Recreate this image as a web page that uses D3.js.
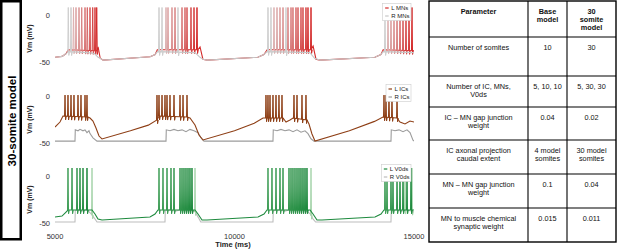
<!DOCTYPE html>
<html>
<head>
<meta charset="utf-8">
<script src="https://cdn.jsdelivr.net/npm/d3@7"></script>
<style>
  body { margin: 0; background: #fff; }
  svg { display: block; font-family: "Liberation Sans", Arial, sans-serif; }
</style>
</head>
<body>
<svg id="chart" width="617" height="250"></svg>
<script>
// ---------- data (time in ms, voltage in mV) ----------
const timeTicks = [5000, 10000, 15000];
const vmTicks = [0, -50];

// motor neurons
const mnEnvL = [[5000,-45],[5200,-44],[5310,-41],[5370,-37],[6170,-38],[6200,-34],[6260,-46],[6340,-48],[7650,-44.5],[7790,-42],[7850,-37],[8980,-37],[9040,-34],[9120,-47],[9240,-48],[10650,-45],[10820,-42],[10910,-37],[12130,-37],[12190,-33],[12270,-47],[12380,-48],[13910,-45],[14080,-42],[14140,-37],[15000,-38]];
const mnEnvR = [[5000,-45],[5200,-44],[5310,-41],[5370,-39],[5900,-40],[6100,-41],[6200,-45],[6260,-46],[6340,-48],[7650,-44.5],[7790,-42],[7850,-39],[8900,-40],[9040,-45],[9120,-47],[9240,-48],[10650,-45],[10820,-42],[10910,-39],[12100,-40],[12230,-46],[12380,-48],[13910,-45],[14080,-42],[14140,-39],[15000,-40]];
const mnSpikesL = [
  [5515,5585,5669,5744,5836,5900,5975,6050,6114,6162],
  [8092,8148,8259,8343,8538,8621,8677,8788,8872,8955],
  [11100,11184,11267,11351,11490,11574,11629,11713,11769,11852,11908,11991,12047,12131],
  [14276,14359,14443,14527,14610,14694,14777,14861,14944]
];
const mnSpikesR = [5370,5446,7897,7981,8426,10933,11016,11434,14192];
const mnPeak = 8;

// interneurons (ICs)
const icEnvL = [[5000,-33],[5139,-27.7],[5223,-21.3],[5919,-22.3],[5975,-23.4],[6058,-26.6],[6142,-34],[6226,-42.6],[6309,-45.7],[7100,-37],[7600,-31],[7841,-25.5],[7900,-21.3],[8677,-22.3],[8760,-23.4],[8900,-30.9],[9011,-41.5],[9123,-46.8],[10000,-37],[10550,-29],[10794,-23.4],[11351,-23.4],[11435,-27.7],[11546,-25.5],[11630,-23.4],[12019,-25.5],[12075,-29.8],[12158,-40.4],[12242,-47.9],[13200,-37],[13900,-27],[14136,-22.3],[14526,-23.4],[14610,-27.7],[14749,-29.8],[14889,-26.6],[15000,-27.7]];
const icEnvR = [[5000,-48],[5557,-48],[5565,-36],[5641,-37],[5696,-35.5],[5780,-37],[5836,-36],[5891,-39],[5947,-37],[5975,-40],[6058,-44.5],[6170,-48],[8092,-48],[8100,-36],[8203,-37],[8315,-35.5],[8426,-37],[8538,-36],[8649,-38],[8760,-35.5],[8872,-37],[8983,-39],[9067,-44.5],[9150,-48],[11072,-48],[11080,-36],[11184,-37],[11295,-35.5],[11406,-37],[11518,-36],[11630,-38],[11741,-36],[11852,-38.5],[11964,-37],[12047,-40],[12131,-45.5],[12214,-48],[14359,-48],[14367,-36],[14471,-37],[14582,-36],[14694,-38],[14805,-36],[14889,-39],[14972,-47],[15000,-48]];
const icSpikesL = [
  [5279,5362,5446,5529,5641,5724,5836,5891],
  [7841,7897,7981,8064,8120,8203,8315,8482,8566,8677],
  [10877,10933,10989,11072,11156,11239,11323,11657,11741,11880,11991],
  [14164,14220,14303,14387,14527]
];
const icPeak = 1;

// V0d neurons
const v0dEnvL = [[5000,-43.6],[5195,-42.6],[5279,-39.4],[5362,-36.2],[6031,-36.2],[6114,-40.4],[6198,-45.7],[6309,-46.8],[7646,-43.6],[7786,-40.4],[7869,-36.2],[8900,-36.2],[8983,-40.4],[9095,-46.8],[9234,-46.8],[10655,-43.6],[10822,-40.4],[10905,-36.2],[12103,-36.2],[12187,-40.4],[12298,-46.8],[12437,-46.8],[13914,-43.6],[14081,-40.4],[14164,-36.2],[15000,-36.2]];
const v0dEnvR = [[5000,-49],[5557,-49],[5565,-37],[5650,-36],[5750,-37.5],[5850,-36],[5919,-37],[6000,-40],[6100,-45],[6170,-49],[8064,-49],[8072,-37],[8200,-36],[8350,-37.5],[8500,-36],[8650,-37],[8800,-36.5],[8900,-38],[8990,-44],[9060,-49],[11072,-49],[11080,-37],[11250,-36],[11400,-37.5],[11550,-36],[11700,-37],[11850,-36],[12000,-37.5],[12103,-40],[12190,-46],[12260,-49],[14359,-49],[14367,-37],[14500,-36],[14650,-37.5],[14800,-36],[14972,-38],[15000,-38]];
const v0dSpikesL = [
  [5362,5474,5613,5696,5780,5891],
  [7897,8008,8120,8231,8315,8482,8538,8593,8649,8705,8760,8816],
  [10933,11044,11156,11267,11351,11518,11574,11629,11685,11741,11797,11852,11908,11964,12019],
  [14192,14248,14359,14415,14527,14610,14694,14805,14917]
];
const v0dSpikesR = [6031,8900,12131,14750,14944];
const v0dPeak = 8.5;

// table
const tableHeader = ["Parameter", "Base\nmodel", "30\nsomite\nmodel"];
const paramNames = ["Number of somites", "Number of IC, MNs,\nV0ds", "IC \u2013 MN gap junction\nweight", "IC axonal projection\ncaudal extent", "MN \u2013 MN gap junction\nweight", "MN to muscle chemical\nsynaptic weight"];
const baseModel = ["10", "5, 10, 10", "0.04", "4 model\nsomites", "0.1", "0.015"];
const somite30Model = ["30", "5, 30, 30", "0.02", "30 model\nsomites", "0.04", "0.011"];

// ---------- drawing ----------
const svg = d3.select("#chart");

// side label box
svg.append("rect")
  .attr("x", 1.25).attr("y", 1.25).attr("width", 19.5).attr("height", 238)
  .attr("fill", "none").attr("stroke", "#000").attr("stroke-width", 2.5);
svg.append("text")
  .attr("transform", "translate(15.5,121) rotate(-90)")
  .attr("text-anchor", "middle")
  .style("font-size", "11.5px").style("font-weight", "bold")
  .text("30-somite model");

const x = d3.scaleLinear().domain([5000, 15000]).range([55, 414]);

svg.append("clipPath").attr("id", "plotclip")
  .append("rect").attr("x", 55).attr("y", 0).attr("width", 359).attr("height", 232);

const panels = [
  { off: 0,   envL: mnEnvL,  envR: mnEnvR,  spikesL: mnSpikesL,  spikesR: mnSpikesR,  peak: mnPeak,
    colL: "#d42a2a", colLight: "#dcb0b0", colR: "#c6c6c6", spikeR: "#cfcfcf", labels: ["L MNs", "R MNs"], rOnTop: true },
  { off: 81,  envL: icEnvL,  envR: icEnvR,  spikesL: icSpikesL,  spikesR: [],         peak: icPeak,
    colL: "#8e3f16", colLight: "#8e3f16", colR: "#9c9c9c", spikeR: "#9c9c9c", labels: ["L ICs", "R ICs"], rOnTop: false },
  { off: 161, envL: v0dEnvL, envR: v0dEnvR, spikesL: v0dSpikesL, spikesR: v0dSpikesR, peak: v0dPeak,
    colL: "#1e8a3e", colLight: "#3f9e57", colR: "#bdbdbd", spikeR: "#a9d6ae", labels: ["L V0ds", "R V0ds"], rOnTop: false }
];

panels.forEach(p => {
  const y = d3.scaleLinear().domain([-50, 0]).range([62 + p.off, 15 + p.off]);
  const line = d3.line().x(d => x(d[0])).y(d => y(d[1]));
  const g = svg.append("g").attr("clip-path", "url(#plotclip)");

  const baseL = d3.scaleLinear().domain(p.envL.map(d => d[0])).range(p.envL.map(d => d[1]));
  const baseR = d3.scaleLinear().domain(p.envR.map(d => d[0])).range(p.envR.map(d => d[1]));
  const spikePts = (t, base) => {
    const vb = base(t);
    return [[t - 14, vb], [t, p.peak], [t + 16, vb - 4], [t + 36, vb]];
  };

  const drawR = () => {
    g.append("path").datum(p.envR).attr("d", line)
      .attr("fill", "none").attr("stroke", p.colR).attr("stroke-width", 1.1);
    p.spikesR.forEach(t => {
      g.append("path").datum(spikePts(t, baseR)).attr("d", line)
        .attr("fill", "none").attr("stroke", p.spikeR).attr("stroke-width", 1);
    });
  };
  const drawL = () => {
    g.append("path").datum(p.envL).attr("d", line)
      .attr("fill", "none").attr("stroke", p.colL).attr("stroke-width", 1.1);
    p.spikesL.forEach(burst => {
      const shade = d3.scaleLinear().domain([0, burst.length - 1]).range([0, 1]);
      burst.forEach((t, i) => {
        g.append("path").datum(spikePts(t, baseL)).attr("d", line)
          .attr("fill", "none")
          .attr("stroke", d3.interpolateRgb(p.colLight, p.colL)(shade(i)))
          .attr("stroke-width", 1);
      });
    });
  };
  if (p.rOnTop) { drawL(); drawR(); } else { drawR(); drawL(); }

  // y tick labels
  svg.append("g").selectAll("text").data(vmTicks).join("text")
    .attr("x", 50).attr("y", d => y(d)).attr("dy", "0.35em")
    .attr("text-anchor", "end").attr("fill", "#333")
    .style("font-size", "7.5px").text(d => d);

  svg.append("text")
    .attr("transform", `translate(32,${(y(0) + y(-50)) / 2}) rotate(-90)`)
    .attr("text-anchor", "middle").attr("fill", "#222")
    .style("font-size", "7px").style("font-weight", "bold")
    .text("Vm (mV)");

  // legend
  const lg = svg.append("g");
  const box = lg.append("rect").attr("fill", "#fff").attr("stroke", "#ccc").attr("stroke-width", 0.6);
  const items = lg.selectAll("g").data(p.labels).join("g")
    .attr("transform", (d, i) => `translate(0,${y(0) - 7 + i * 8})`);
  items.append("line").attr("x1", 0).attr("x2", 3.5).attr("y1", 0).attr("y2", 0)
    .attr("stroke", (d, i) => i === 0 ? p.colL : p.colR).attr("stroke-width", 1.2);
  items.append("text").attr("x", 6).attr("dy", "0.35em").attr("fill", "#222")
    .style("font-size", "6px").text(d => d);
  const bb = lg.node().getBBox();
  box.attr("x", bb.x - 2.5).attr("y", bb.y - 1.5).attr("width", bb.width + 4).attr("height", bb.height + 3);
  lg.attr("transform", `translate(${411 - (bb.width + 1.5)},0)`);
});

// time axis labels
svg.append("g").selectAll("text").data(timeTicks).join("text")
  .attr("x", d => x(d)).attr("y", 236).attr("dy", "0.35em")
  .attr("text-anchor", "middle").attr("fill", "#333")
  .style("font-size", "7.5px").text(d => d);
svg.append("text").attr("x", 233).attr("y", 247)
  .attr("text-anchor", "middle").attr("fill", "#222")
  .style("font-size", "7.5px").style("font-weight", "bold")
  .text("Time (ms)");

// table
const colX = [429, 528, 567, 616];
const rowY = [1, 37, 76, 107, 140, 174, 208, 242];
const tg = svg.append("g");
const rows = [tableHeader].concat(paramNames.map((d, i) => [d, baseModel[i], somite30Model[i]]));

tg.append("rect").attr("x", colX[0]).attr("y", rowY[0])
  .attr("width", colX[3] - colX[0]).attr("height", rowY[7] - rowY[0])
  .attr("fill", "none").attr("stroke", "#000").attr("stroke-width", 1.4);
rowY.slice(1, -1).forEach(yy => tg.append("line")
  .attr("x1", colX[0]).attr("x2", colX[3]).attr("y1", yy).attr("y2", yy)
  .attr("stroke", "#000").attr("stroke-width", 1.1));
colX.slice(1, -1).forEach(xx => tg.append("line")
  .attr("x1", xx).attr("x2", xx).attr("y1", rowY[0]).attr("y2", rowY[7])
  .attr("stroke", "#000").attr("stroke-width", 1.1));

rows.forEach((r, ri) => {
  r.forEach((cell, ci) => {
    const t = tg.append("text")
      .attr("x", (colX[ci] + colX[ci + 1]) / 2).attr("y", rowY[ri] + 12.5)
      .attr("text-anchor", "middle").attr("fill", "#111")
      .style("font-size", "7.3px").style("font-weight", ri === 0 ? "bold" : "normal");
    cell.split("\n").forEach((ln, li) => {
      t.append("tspan").attr("x", (colX[ci] + colX[ci + 1]) / 2)
        .attr("dy", li === 0 ? 0 : 8.3).text(ln);
    });
  });
});
</script>
</body>
</html>
